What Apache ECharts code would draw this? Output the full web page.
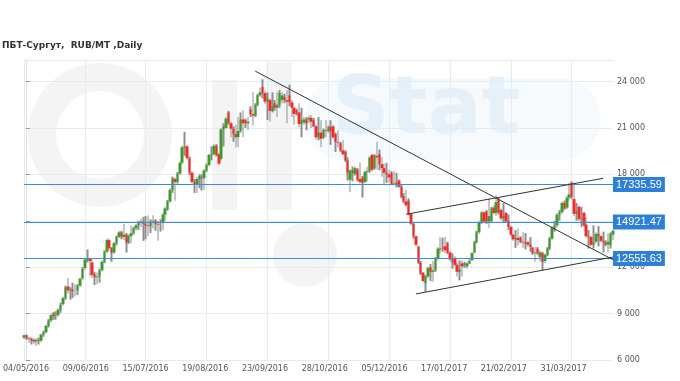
<!DOCTYPE html>
<html>
<head>
<meta charset="utf-8">
<script src="https://cdn.jsdelivr.net/npm/echarts@6/dist/echarts.min.js"></script>
<style>
html,body{margin:0;padding:0;background:#fff;}
#chart{width:680px;height:381px;}
</style>
</head>
<body>
<div id="chart"></div>
<script>
// ---------- data ----------
const titleText = 'ПБТ-Сургут,  RUB/MT ,Daily';
const tickLabels = ['04/05/2016','09/06/2016','15/07/2016','19/08/2016','23/09/2016','28/10/2016','05/12/2016','17/01/2017','21/02/2017','31/03/2017'];
const levels = [17335.59, 14921.47, 12555.63];
const trendDown = [[95, 24670], [242, 12480]];
const channelUp = [[157, 15420], [238, 17745]];
const channelLow = [[161, 10270], [242, 12655]];

const opens = [
7450,7600,7400,7350,7300,7200,7300,7250,7650,7800,
8200,8550,9000,8850,8900,9250,9600,10000,10750,10500,
10550,10500,10500,10800,11300,11950,12450,12550,12300,11550,
11350,11400,11800,12350,13000,13750,13250,12950,13550,13950,
14250,13950,14100,13600,14000,14200,14500,14700,14850,14950,
14800,14700,14650,14950,15000,14800,14900,14900,15400,15750,
16250,17000,17700,17500,18050,18750,19800,19800,19050,18100,
17500,17350,17700,17800,17750,18250,18600,19250,19300,19850,
19300,19000,20900,21000,22000,21300,20950,20600,20400,20800,
21550,21500,21300,22200,21900,21800,22500,23100,23650,23250,
22700,22800,22100,22600,22300,22500,22800,23000,22800,23100,
22650,22300,22150,22000,21250,21350,21550,21550,21650,21500,
21100,20400,20700,20400,20850,20850,21050,21100,20600,20100,
20000,19550,19450,18900,17650,18250,18000,18300,17700,17800,
17500,18150,18200,19250,18400,19200,19300,18650,18400,18100,
18000,18100,17400,17450,17600,17200,16600,16250,16300,15450,
14800,14000,13300,12300,11650,10950,11400,12000,11700,11800,
12550,13200,13350,13350,13550,12950,12500,12600,12150,11700,
12250,12150,12050,12250,12450,12950,13600,14250,14900,15550,
15600,14950,15000,15850,15500,16400,15700,15150,15500,15000,
14600,14100,13800,13900,13900,13650,13600,13600,13450,13250,
12900,13200,12650,12900,12400,12800,13200,13850,14500,14700,
15400,15550,16150,15850,16500,17450,16400,15450,15900,15100,
15500,14750,14000,13950,13450,13650,14150,14000,13700,13600,
13450,13450,14100];
const closes = [
7600,7400,7350,7250,7200,7300,7250,7650,7800,8200,
8550,8900,8850,8900,9250,9550,10000,10700,10500,10550,
10450,10500,10800,11250,11900,12500,12550,12400,11500,11350,
11400,11800,12350,13000,13750,13250,12950,13550,13950,14250,
13950,14100,13600,14000,14200,14500,14700,14850,14950,14800,
14700,14650,14950,15000,14800,14750,14900,15400,15800,16250,
17000,17750,17500,18050,18750,19750,19750,19050,18100,17500,
17350,17700,17900,17750,18250,18600,19250,19300,19850,19250,
18700,20900,21100,21600,21300,20950,20600,20400,20800,21550,
21300,21300,21400,21900,21800,22500,23100,23300,23250,22700,
22900,22100,22400,22300,22500,23250,23100,22800,22700,22650,
22300,21900,21950,21250,21500,21550,21300,21650,21400,21100,
20400,20700,20300,20850,20800,21050,20800,20400,20100,20050,
19550,19300,18900,18100,18250,18100,18400,17650,17500,17450,
18150,18200,19050,18300,19200,19100,18650,18400,18100,18000,
17800,17400,17450,17350,17200,16550,16250,16000,15450,14800,
14000,13450,12300,11600,11100,11400,11950,11700,11800,12550,
13200,13150,13350,13100,12950,12500,12300,12150,11700,11850,
12050,12250,12250,12400,12900,13600,14250,14900,15500,14950,
14950,15300,15800,15500,16200,15550,15150,15300,14950,14600,
14100,13800,13900,13750,13650,13600,13500,13450,13300,12900,
12950,12900,12950,12350,12800,13200,13850,14550,14700,15400,
15550,16150,15800,16500,16700,16550,15450,15600,15100,15150,
14700,14000,13950,13450,13600,14150,14000,13700,13600,13450,
13650,14150,14350];
const lows = [
7350,7300,7100,7000,7050,6900,7000,7150,7500,7700,
8100,8400,8600,8600,8800,9050,9500,9900,10300,9900,
10000,10100,10200,10700,11200,11800,12300,11400,11300,10850,
10900,11000,11700,12250,12900,13100,12350,12850,13400,13850,
13800,13750,12950,13500,13550,14100,14350,14400,14600,13700,
13800,14000,14200,14500,14350,13700,14300,14400,15000,15650,
16150,16800,16300,17400,17950,18650,19200,18950,17950,17400,
16800,16800,17100,16950,17000,18150,18500,18900,19200,19150,
18600,18900,19800,20950,21200,20400,20100,19750,19750,20700,
20400,21000,20850,21700,21150,21700,22400,23000,22900,22550,
21500,21400,22000,22100,21700,22300,22600,22600,21300,22400,
21700,21200,21800,21050,20400,21200,20850,21300,21000,21050,
20250,20200,19750,20300,20400,20700,19900,20300,19450,19750,
19450,19250,18800,17600,16850,17550,17900,17550,17400,16500,
17450,17550,18100,18200,18300,18300,18250,17850,17300,17450,
17450,17300,17300,17150,17100,16450,16150,15900,15350,14700,
13850,13350,12200,11500,11050,10400,11300,11100,11050,11700,
12450,12900,13000,12900,12850,12400,11900,12050,11400,11150,
11400,11950,11900,12200,12400,12900,13550,14150,14800,14850,
14800,14550,14900,15400,15300,15400,15000,14900,14850,14400,
14000,13700,13250,13400,13550,13250,13150,13300,13000,12800,
12350,12800,12350,11800,12250,12700,13100,13750,14300,14550,
15000,15450,15700,15750,16300,16400,15300,15000,15000,14600,
14600,13900,13200,13350,13200,13550,13350,13600,12950,13350,
12950,13200,13750];
const highs = [
7650,7650,7500,7450,7400,7400,7450,7700,7900,8300,
8650,9000,9100,9150,9350,9700,10100,10800,11300,10700,
11000,10900,10900,11350,12000,12600,13150,12600,12500,11700,
11650,11900,12450,13100,13850,13850,13300,13650,14050,14350,
14350,14800,14200,14100,14700,14600,14800,15000,15150,15250,
15300,15350,15100,15350,15100,15000,15100,15500,15900,16350,
17100,17850,17800,18150,18850,19850,20750,19900,19150,18200,
17700,17850,18000,18000,18350,18700,19350,19800,19950,19950,
19400,21000,21300,21700,22100,21400,21100,21200,21700,22000,
22150,21600,21700,22400,23300,22600,23200,23600,24150,23400,
23300,22900,23300,22800,23300,23450,23300,23200,23450,23800,
22800,22350,22250,22600,22300,21700,21700,21800,21850,21650,
21200,21700,21500,20950,21500,21150,21500,21200,20700,20850,
20100,20200,19550,19100,18350,18500,18500,18400,18750,17900,
18250,18500,19150,19350,19300,20100,19600,19100,18700,18750,
18300,18200,18200,18100,17700,17300,16800,17000,16450,15500,
14900,14050,13400,12400,11700,11500,12050,12200,12400,12650,
13300,13950,13900,13950,13650,13050,12900,12700,12300,12450,
12450,12350,12350,12500,13000,13700,14350,15000,15600,15600,
15700,16450,15900,16000,16650,16500,15800,16150,15600,15400,
14700,14150,14400,14500,14000,14250,14200,13700,13950,13300,
13300,13300,13100,13000,12900,13300,13950,14650,15000,15500,
15700,16250,16300,16600,17450,17550,17450,16150,16000,15900,
15600,15250,14400,14000,14700,14250,14650,14050,14300,13750,
14200,14250,14450];

// trading-day categories (Russian exchange calendar)
const holidays = ['2016-05-09','2016-06-13','2016-11-04','2016-12-30','2017-01-02','2017-01-03','2017-01-04','2017-01-05','2017-01-06','2017-02-23','2017-02-24','2017-03-08'];
const categories = (function(){
  const out = []; const d = new Date(Date.UTC(2016,4,4));
  while (out.length < opens.length) {
    const iso = d.toISOString().slice(0,10); const wd = d.getUTCDay();
    if (wd !== 0 && wd !== 6 && holidays.indexOf(iso) < 0) out.push(iso);
    d.setUTCDate(d.getUTCDate()+1);
  }
  return out;
})();

// ---------- chart ----------
const rangeData = lows.map((l,i)=>[l, highs[i], l, highs[i]]);
const bodyData = opens.map((o,i)=>[o, closes[i], Math.min(o,closes[i]), Math.max(o,closes[i])]);
const GRID = '#e2ecf6';
const WM = '#f4f4f4';
const chart = echarts.init(document.getElementById('chart'), null, {renderer:'canvas'});
const fmt = v => String(v).replace(/\B(?=(\d{3})+(?!\d))/g, ' ');

chart.setOption({
  animation: false,
  backgroundColor: '#fff',
  title: {text: titleText, left: 2, top: 41, padding: 0,
    textStyle: {fontFamily: 'DejaVu Sans', fontSize: 9, fontWeight: 'bold', color: '#333'}},
  graphic: [
    {type:'ring', z:-10, silent:true, shape:{cx:100, cy:135, r:72, r0:44}, style:{fill:WM}},
    {type:'rect', z:-10, silent:true, shape:{x:212, y:80, width:25, height:130}, style:{fill:WM}},
    {type:'rect', z:-10, silent:true, shape:{x:266, y:62, width:26, height:148}, style:{fill:WM}},
    {type:'circle', z:-10, silent:true, shape:{cx:305, cy:255, r:32}, style:{fill:WM}},
    {type:'rect', z:-10, silent:true, shape:{x:305, y:78, width:295, height:82, r:40}, style:{fill:'#f6fafd'}},
    {type:'text', z:-9, silent:true, left:332, top:72, style:{text:'Stat', fontFamily:'DejaVu Sans', fontWeight:'bold', fontSize:80, fill:'#e6f0f8'}}
  ],
  grid: {left: 22, right: 67, top: 60, bottom: 21, containLabel: false},
  xAxis: [
    {type:'category', data: categories, boundaryGap:false,
      axisLine:{show:true, lineStyle:{color:GRID}}, axisTick:{show:false}, axisLabel:{show:false},
      splitLine:{show:true, interval:24, lineStyle:{color:GRID, width:1}}},
    {type:'value', position:'bottom', min:-0.0334, max:9.8265,
      axisLine:{show:false}, axisTick:{show:false}, splitLine:{show:false},
      axisLabel:{customValues:[0,1,2,3,4,5,6,7,8,9], formatter: v => tickLabels[Math.round(v)],
        fontFamily:'DejaVu Sans', fontSize:8, color:'#555', margin:5}}
  ],
  yAxis: {type:'value', position:'right', min:6000, max:25390, interval:3000, scale:false,
    axisLine:{show:true, lineStyle:{color:'#d6e2ee'}},
    axisTick:{show:true, length:4, lineStyle:{color:'#999'}},
    axisLabel:{formatter: fmt, fontFamily:'DejaVu Sans', fontSize:8, color:'#555', margin:4, showMaxLabel:false},
    splitLine:{show:true, lineStyle:{color:GRID}}},
  series: [
    {type:'candlestick', name:'range', data: rangeData, barWidth:2, z:3, clip:false,
      itemStyle:{color:'#8e8e8e', color0:'#8e8e8e', borderColor:'#8e8e8e', borderColor0:'#8e8e8e', borderWidth:0}},
    {type:'candlestick', name:'body', data: bodyData, barWidth:3, z:4, clip:false,
      itemStyle:{color:'#3f9a2c', color0:'#f42a24', borderColor:'#3f9a2c', borderColor0:'#f42a24', borderWidth:0},
      markLine:{silent:true, symbol:['none','none'], animation:false,
        lineStyle:{color:'#3a8ee2', width:1, type:'solid'},
        label:{show:true, position:'end', distance:0, formatter: p => p.value.toFixed(2),
          backgroundColor:'#2e80d6', color:'#fff', fontFamily:'Liberation Sans', fontSize:11, padding:[2,3,2,3]},
        data: levels.map(v => ({yAxis: v}))}},
    {type:'line', data: trendDown, showSymbol:false, z:5, lineStyle:{color:'#333', width:1}},
    {type:'line', data: channelUp, showSymbol:false, z:5, lineStyle:{color:'#333', width:1}},
    {type:'line', data: channelLow, showSymbol:false, z:5, lineStyle:{color:'#333', width:1}}
  ]
});
</script>
</body>
</html>
